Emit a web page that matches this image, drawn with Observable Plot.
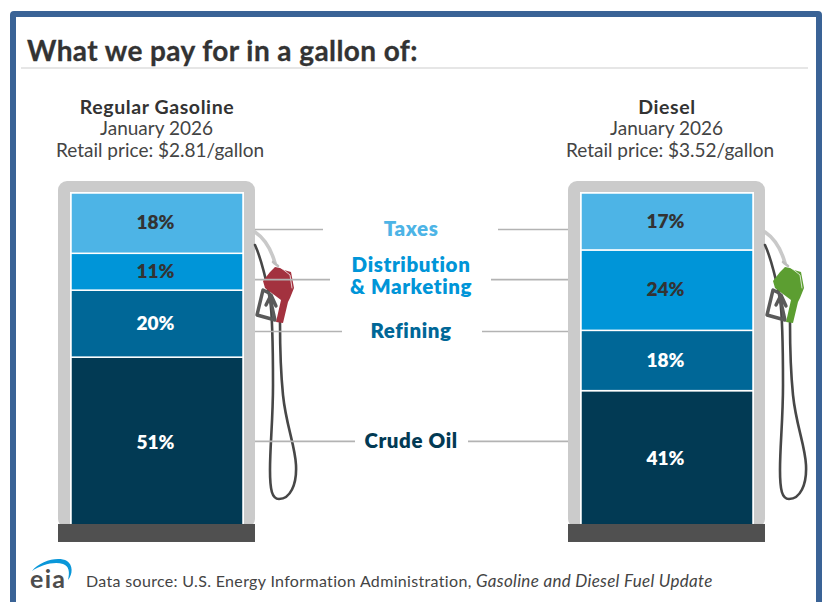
<!DOCTYPE html>
<html><head><meta charset="utf-8">
<script src="https://cdn.jsdelivr.net/npm/d3@7"></script>
<script src="https://cdn.jsdelivr.net/npm/@observablehq/plot@0.6"></script>
<style>
html,body{margin:0;padding:0;background:#fff;width:826px;height:602px;overflow:hidden;font-family:Lato,sans-serif;color:#333}
#frame{position:absolute;left:10px;top:11px;width:800px;height:620px;border:6px solid #3a6396;border-radius:4px}
#title{position:absolute;left:27px;top:33px;margin:0;font-size:28px;font-weight:700;letter-spacing:.42px;line-height:34px;white-space:nowrap;-webkit-text-stroke:.3px #333}
#rule{position:absolute;left:21px;top:67px;width:787px;height:2px;background:#e6e6e6}
#chart{position:absolute;left:0;top:90px}
#logo{position:absolute;left:28px;top:556px}
#caption{position:absolute;left:86px;top:572px;font-size:16px;line-height:18px;color:#444;white-space:nowrap;letter-spacing:.33px}
#caption i{font-size:17px;letter-spacing:.3px}
.spaced{letter-spacing:.6px}
</style></head><body>
<div id="frame"></div>
<h1 id="title">What we pay for in a gallon of:</h1>
<div id="rule"></div>
<div id="chart"></div>
<svg id="logo" width="48" height="36" viewBox="0 0 48 36">
<path d="M4 15C12 5 30 0 39 5C45 9 45 18 40 24C42 16 41 10 35 8C26 5 13 9 4 15Z" fill="#0a97d9"/>
<text x="2" y="32" font-family="Lato" font-weight="700" font-size="25" fill="#4d4d4d" textLength="35">eia</text>
</svg>
<div id="caption">Data source: U.S. Energy Information Administration, <i>Gasoline and Diesel Fuel Update</i></div>
<script>
const fuels = ["Regular Gasoline", "Diesel"];
const periods = ["January 2026", "January 2026"];
const prices = ["Retail price: $2.81/gallon", "Retail price: $3.52/gallon"];
const components = ["Crude Oil", "Refining", "Distribution\n& Marketing", "Taxes"];
const gasolineShares = [51, 20, 11, 18];
const dieselShares = [41, 18, 24, 17];
const componentColors = ["#023a54", "#006797", "#0095d8", "#4db4e6"];
const labelColors = ["#ffffff", "#ffffff", "#333333", "#333333"];
const nozzleColors = ["#a3323f", "#5c9e31"];

const rows = fuels.flatMap((fuel, f) =>
  components.map((component, c) => ({fuel, component, share: (f ? dieselShares : gasolineShares)[c]})));
const fuelRows = fuels.map((fuel, i) => ({fuel, period: periods[i], price: prices[i], nozzle: nozzleColors[i]}));

// page layout of the callouts, in y-scale units and pixels
const calloutY = [26, 58.8, 74.3, 89.25];
const calloutTextY = [26, 58.8, 75.2, 89.25];
const calloutRows = components.map((component, i) => ({component, y: calloutY[i], textY: calloutTextY[i]}));
const leftEnds = [355, 342, 330, 323], rightStarts = [468, 482, 491, 498];

function pumpHardware(index, {x, y}, values, dims, context) {
  const g = d3.select(context.document.createElementNS("http://www.w3.org/2000/svg", "g"));
  fuelRows.forEach(row => {
    const ox = x(row.fuel) - 71, oy = y(100) - 193;
    const p = g.append("g").attr("transform", `translate(${ox},${oy})`).attr("fill", "none").attr("stroke-linecap", "round").attr("stroke-linejoin", "round");
    p.append("path").attr("d", "M255 232C264 238 271 249 275 263").attr("stroke", "#c9c9c9").attr("stroke-width", 3.6);
    p.append("path").attr("d", "M255 245C262 260 266 280 270 298C273 320 273 350 273 385C273 420 270 445 270 470C270 490 272 499 279 499C290 499 297 485 296 465C295 445 286 425 283 395C281 375 280 345 280 322").attr("stroke", "#474747").attr("stroke-width", 2.6);
    p.append("path").attr("d", "M263 290L257 315L275 320L269 293ZM266 305L271 295L276 306").attr("stroke", "#5a5a5a").attr("stroke-width", 3.4);
    p.append("path").attr("d", "M275 267L280 268L284 270L291 272L294 288L290 298L288 302L283 323L276 322L281 300L265 288L263 281L270 272Z").attr("fill", row.nozzle);
    p.append("path").attr("d", "M280 267L285 271L290 275L292 288").attr("stroke", "#ffffff").attr("stroke-opacity", .75).attr("stroke-width", 1);
    p.append("path").attr("d", "M273 262L278 266").attr("stroke", "#bdbdbd").attr("stroke-width", 2.6);
  });
  return g.node();
}

const plot = Plot.plot({
  width: 826, height: 460,
  marginTop: 0, marginRight: 0, marginBottom: 0, marginLeft: 0,
  style: {fontFamily: "Lato, sans-serif", background: "transparent", overflow: "visible"},
  x: {type: "band", domain: fuels, range: [70.5, 753], paddingInner: 0.663, paddingOuter: 0, axis: null},
  y: {domain: [0, 100], range: [438, 103], axis: null},
  marks: [
    // casing, inner panel and base of each pump
    Plot.barY(fuelRows, {x: "fuel", y1: 0, y2: 100, fill: "#cbcbcb", insetLeft: -13, insetRight: -12, insetTop: -12, rx: 9}),
    Plot.barY(fuelRows, {x: "fuel", y1: 0, y2: 100, fill: "#ffffff", insetLeft: -1, insetRight: -1, insetTop: -1}),
    pumpHardware,
    Plot.barY(rows, {x: "fuel", y: "share", fill: d => componentColors[components.indexOf(d.component)], stroke: "#ffffff", strokeWidth: 1.5, order: null}),
    Plot.barY(fuelRows, {x: "fuel", y1: 1.2, y2: 1.2, fill: "#505050", insetLeft: -13, insetRight: -12, insetBottom: -18}),
    // share labels
    Plot.text(rows, Plot.stackY({x: "fuel", y: "share", text: d => `${d.share}%`, fill: d => labelColors[components.indexOf(d.component)], fontSize: 19, fontWeight: 800, dx: -2, dy: -.5, order: null})),
    // headings above each pump
    Plot.text(fuelRows, {x: "fuel", y: 100, text: "fuel", dy: -86, dx: -.5, fontSize: 19.5, fontWeight: 700, className: "spaced", fill: "#333"}),
    Plot.text(fuelRows, {x: "fuel", y: 100, text: "period", dy: -65, dx: -1, fontSize: 19, fill: "#444"}),
    Plot.text(fuelRows, {x: "fuel", y: 100, text: "price", dy: -43, dx: 2.5, fontSize: 19, fill: "#444"}),
    // callout lines
    ...calloutRows.map((d, i) => Plot.ruleY([d.y], {stroke: "#b3b3b3", strokeWidth: 1.6, insetLeft: 255, insetRight: 826 - leftEnds[i]})),
    ...calloutRows.map((d, i) => Plot.ruleY([d.y], {stroke: "#b3b3b3", strokeWidth: 1.6, insetLeft: rightStarts[i], insetRight: 826 - 568})),
    // callout names
    Plot.text(calloutRows, {y: "textY", text: "component", frameAnchor: "middle", dx: -2.5, dy: -.5, fontSize: 20.5, fontWeight: 800, className: "spaced", lineHeight: 1.073,
      fill: d => componentColors[components.indexOf(d.component)]})
  ]
});
document.getElementById("chart").append(plot);
</script>
</body></html>
